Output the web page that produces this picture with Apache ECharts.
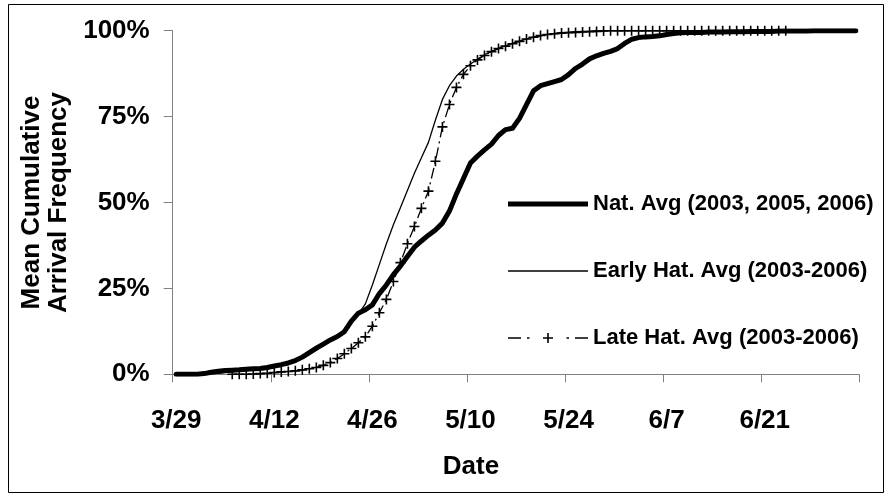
<!DOCTYPE html>
<html>
<head>
<meta charset="utf-8">
<script src="https://cdn.jsdelivr.net/npm/echarts@6/dist/echarts.min.js"></script>
<style>
  html, body { margin: 0; padding: 0; background: #fff; }
  #chart { width: 886px; height: 496px; }
</style>
</head>
<body>
<div id="chart"></div>
<script>
// Daily categories from 3/29 through 7/4
const firstMonth = 3, firstDay = 29, dayCount = 98;
const monthLength = { 3: 31, 4: 30, 5: 31, 6: 30, 7: 31 };
function buildDates(month, day, count) {
  const out = [];
  let m = month, d = day;
  for (let k = 0; k < count; k++) {
    out.push(m + '/' + d);
    d++;
    if (d > monthLength[m]) { d = 1; m++; }
  }
  return out;
}
const dates = buildDates(firstMonth, firstDay, dayCount);

// Y tick labels (percent)
const yTicks = [0, 25, 50, 75, 100];

// Series names
const natName = 'Nat. Avg (2003, 2005, 2006)';
const earlyName = 'Early Hat. Avg (2003-2006)';
const lateName = 'Late Hat. Avg (2003-2006)';

// Mean cumulative arrival frequency (%), one value per day
const natStart = 0;
const natValues = [
  0, 0, 0, 0, 0.2, 0.6, 0.9, 1.1, 1.2, 1.3,
  1.5, 1.6, 1.7, 2.0, 2.4, 2.8, 3.3, 4.0, 5.0, 6.3,
  7.6, 8.8, 10.0, 11.0, 12.4, 15.5, 17.8, 18.8, 20.2, 23.5,
  26.0, 29.0, 31.5, 34.3, 37.0, 38.8, 40.5, 42.0, 44.0, 47.5,
  52.5, 57.0, 61.5, 63.5, 65.3, 67.0, 69.5, 71.2, 71.6, 74.5,
  78.5, 82.5, 84.0, 84.6, 85.2, 85.8, 87.2, 89.0, 90.3, 91.8,
  92.7, 93.4, 94.0, 94.8, 96.3, 97.5, 98.0, 98.2, 98.3, 98.5,
  98.9, 99.2, 99.4, 99.5, 99.5, 99.5, 99.6, 99.6, 99.6, 99.7,
  99.7, 99.7, 99.8, 99.8, 99.8, 99.8, 99.9, 99.9, 99.9, 99.9,
  99.9, 100, 100, 100, 100, 100, 100, 100
];

const earlyStart = 3;
const earlyValues = [
  0, 0, 0.2, 0.3, 0.5, 0.7, 0.9, 1.1, 1.3, 1.5,
  1.8, 2.2, 2.6, 3.1, 3.8, 4.7, 5.8, 7.0, 8.3, 9.6,
  10.8, 12.2, 15.0, 17.5, 20.5, 26.0, 32.0, 38.0, 43.5, 48.5,
  53.5, 58.5, 63.0, 67.5, 74.0, 80.0, 84.0, 86.8, 88.8, 90.3,
  91.7, 93.0, 94.0, 94.9, 95.6, 96.3, 97.0, 97.6, 98.1, 98.5,
  98.9, 99.2, 99.4, 99.6, 99.7, 99.8, 99.9, 100, 100, 100,
  100, 100, 100, 100, 100, 100, 100, 100, 100, 100,
  100, 100, 100, 100, 100, 100, 100, 100, 100, 100,
  100, 100, 100, 100, 100
];

const lateStart = 8;
const lateValues = [
  0, 0, 0, 0.1, 0.2, 0.3, 0.5, 0.7, 0.8, 1.0,
  1.3, 1.6, 2.0, 2.6, 3.4, 4.6, 6.0, 7.5, 9.2, 10.9,
  14.0, 17.9, 21.8, 27.0, 32.5, 38.0, 43.0, 48.3, 53.3, 62.0,
  72.0, 78.5, 83.5, 87.3, 89.8, 91.5, 92.8, 93.9, 94.8, 95.5,
  96.2, 96.9, 97.6, 98.1, 98.6, 98.9, 99.1, 99.3, 99.4, 99.5,
  99.6, 99.7, 99.8, 99.9, 100, 100, 100, 100, 100, 100,
  100, 100, 100, 100, 100, 100, 100, 100, 100, 100,
  100, 100, 100, 100, 100, 100, 100, 100, 100, 100
];

function pairs(start, values) {
  return values.map((v, k) => [dates[start + k], v]);
}

const FONT = "'Liberation Sans', Arial, Helvetica, sans-serif";
const axisGray = '#808080';
const plusMarker = 'path://M4.2,0H5.8V4.2H10V5.8H5.8V10H4.2V5.8H0V4.2H4.2Z';

// Legend keys: thick line, thin line, dash-dot line with a plus in the middle
const natKey = 'path://M0,0H80V5H0Z';
const earlyKey = 'path://M0,0H80V1.3H0Z';
const lateKey = 'path://M0,4.35H13V5.65H0Z M19,4.35H21.5V5.65H19Z M35,4.2H39.2V0H40.8V4.2H45V5.8H40.8V10H39.2V5.8H35Z M58.5,4.35H61V5.65H58.5Z M67,4.35H80V5.65H67Z';

const chart = echarts.init(document.getElementById('chart'), null, { renderer: 'canvas' });

chart.setOption({
  animation: false,
  backgroundColor: '#ffffff',
  textStyle: { fontFamily: FONT },
  grid: { left: 172.7, right: 26.7, top: 30.7, bottom: 121.7, containLabel: false },
  graphic: [{
    type: 'rect',
    shape: { x: 8.5, y: 4.5, width: 875, height: 488 },
    style: { fill: null, stroke: '#000', lineWidth: 1 },
    silent: true,
    z: -10
  }],
  legend: {
    orient: 'vertical',
    left: 508,
    top: 193,
    padding: 0,
    itemWidth: 80,
    itemHeight: 14,
    itemGap: 45,
    symbolKeepAspect: true,
    selectedMode: false,
    itemStyle: { color: '#000', borderWidth: 0 },
    textStyle: { fontFamily: FONT, fontSize: 22, fontWeight: 'bold', color: '#000', lineHeight: 22 },
    data: [
      { name: natName, icon: natKey },
      { name: earlyName, icon: earlyKey },
      { name: lateName, icon: lateKey }
    ]
  },
  xAxis: {
    type: 'category',
    data: dates,
    boundaryGap: true,
    name: 'Date',
    nameLocation: 'middle',
    nameGap: 80,
    nameTextStyle: { fontFamily: FONT, fontSize: 26, fontWeight: 'bold', color: '#000', padding: [0, 90, 0, 0] },
    axisLine: { lineStyle: { color: axisGray, width: 1 } },
    axisTick: { show: true, interval: 13, length: 8, inside: false, lineStyle: { color: axisGray } },
    axisLabel: { interval: 13, margin: 34, fontFamily: FONT, fontSize: 26, fontWeight: 'bold', color: '#000' },
    splitLine: { show: false }
  },
  yAxis: {
    type: 'value',
    min: yTicks[0],
    max: yTicks[yTicks.length - 1],
    interval: 25,
    name: 'Mean Cumulative\nArrival Frequency',
    nameLocation: 'middle',
    nameGap: 92,
    nameTextStyle: { fontFamily: FONT, fontSize: 26, fontWeight: 'bold', color: '#000', lineHeight: 27 },
    axisLine: { show: true, lineStyle: { color: axisGray, width: 1 } },
    axisTick: { show: true, length: 9, inside: false, lineStyle: { color: axisGray } },
    axisLabel: { margin: 23, formatter: '{value}%', fontFamily: FONT, fontSize: 26, fontWeight: 'bold', color: '#000' },
    splitLine: { show: false }
  },
  series: [
    {
      name: natName,
      type: 'line',
      data: pairs(natStart, natValues),
      symbol: 'none',
      lineStyle: { color: '#000', width: 5, cap: 'round', join: 'round' },
      itemStyle: { color: '#000' },
      z: 3
    },
    {
      name: earlyName,
      type: 'line',
      data: pairs(earlyStart, earlyValues),
      symbol: 'none',
      lineStyle: { color: '#000', width: 1.3 },
      itemStyle: { color: '#000' },
      z: 4
    },
    {
      name: lateName,
      type: 'line',
      data: pairs(lateStart, lateValues),
      symbol: plusMarker,
      symbolSize: 10,
      showAllSymbol: true,
      lineStyle: { color: '#000', width: 1.3, type: [11, 4, 2, 4] },
      itemStyle: { color: '#000', borderWidth: 0 },
      z: 5
    }
  ]
});
</script>
</body>
</html>
